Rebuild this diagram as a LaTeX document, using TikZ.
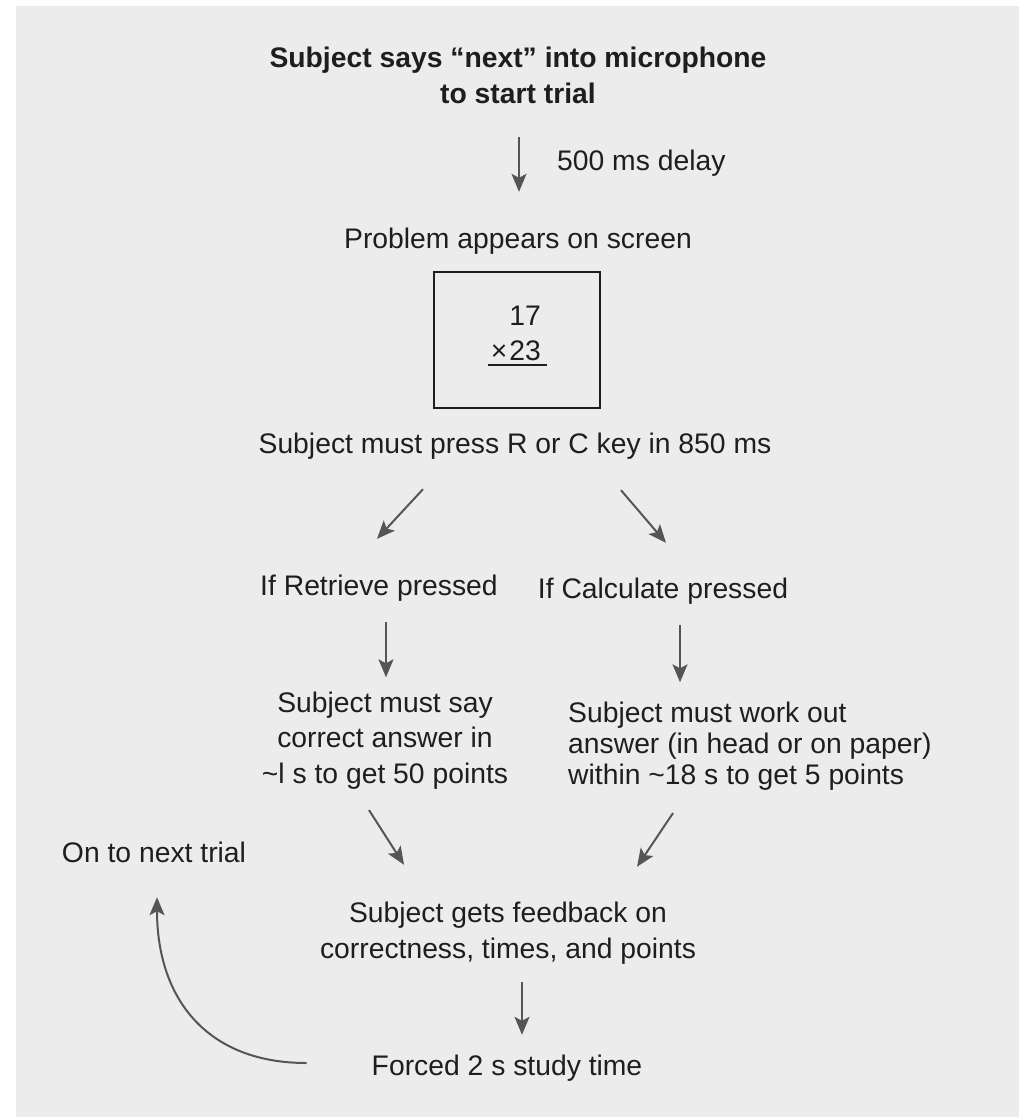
\documentclass[tikz,border=0pt]{standalone}
\usepackage{fontspec}
\setmainfont{Liberation Sans}
\usepackage{tikz}
\usetikzlibrary{arrows.meta}
\definecolor{panelgray}{HTML}{ECECEC}
\definecolor{inkgray}{HTML}{1E1E1E}
\definecolor{arrowgray}{HTML}{555555}

\begin{document}
\begin{tikzpicture}[x=1pt,y=1pt,
  txt/.style={inner sep=0pt, text=inkgray, font=\fontsize{28.3}{36}\selectfont, text height=20pt, text depth=6pt},
  blk/.style={inner sep=0pt, text=inkgray, font=\fontsize{28.3}{35.5}\selectfont},
  arr/.style={draw=arrowgray, line width=2pt, -{Stealth[length=18pt,width=15pt,inset=4pt]}}]
\useasboundingbox (0,0) rectangle (1019,-1117);
\fill[white] (0,0) rectangle (1019,-1117);
\fill[panelgray] (16,-6) rectangle (1019,-1117);
% multi-line nodes sit on the baseline of their last line
\node[blk, font=\fontsize{28.3}{36}\selectfont\bfseries, align=center, anchor=base] (start) at (518,-103) {Subject says “next” into microphone\\to start trial};
\node[txt, anchor=base west] (delay) at (557,-170) {500 ms delay};
\node[txt, anchor=base] (prob) at (518,-248) {Problem appears on screen};
\node[draw=inkgray, line width=1.5pt, minimum width=166pt, minimum height=136pt, inner sep=0pt] (screen) at (517,-340) {};
\node[txt, anchor=base east] (n17) at (541,-325) {17};
\node[txt, anchor=base east] (n23) at (541,-360) {×\kern2pt23};
\draw[inkgray, line width=2pt] ([xshift=-3pt,yshift=-5pt]n23.base west) -- ([xshift=6pt,yshift=-5pt]n23.base east);
\node[txt, anchor=base] (press) at (515,-453) {Subject must press R or C key in 850 ms};
\node[txt, anchor=base] (retr) at (379,-595) {If Retrieve pressed};
\node[txt, anchor=base] (calc) at (663,-598) {If Calculate pressed};
\node[blk, align=center, anchor=base] (sayblk) at (385,-783) {Subject must say\\correct answer in\\\textasciitilde l s to get 50 points};
\node[blk, font=\fontsize{28.3}{31}\selectfont, align=left, anchor=base west] (workblk) at (568,-784) {Subject must work out\\answer (in head or on paper)\\within \textasciitilde 18 s to get 5 points};
\node[txt, anchor=base] (next) at (154,-862) {On to next trial};
\node[blk, align=center, anchor=base] (fb) at (508,-958) {Subject gets feedback on\\correctness, times, and points};
\node[txt, anchor=base] (forced) at (507,-1075) {Forced 2 s study time};
%\draw[arr] (start) -- (prob);
\draw[arr] ([xshift=1pt,yshift=-34pt]start.south) -- ([xshift=1pt,yshift=36pt]prob.north);
\draw[arr] ([xshift=-92pt,yshift=-30pt]press.south) -- ([xshift=-2pt,yshift=36pt]retr.north);
\draw[arr] ([xshift=106pt,yshift=-31pt]press.south) -- ([xshift=3pt,yshift=35pt]calc.north);
\draw[arr] ([xshift=7pt,yshift=-21pt]retr.south) -- ([xshift=1pt,yshift=14pt]sayblk.north);
\draw[arr] ([xshift=17pt,yshift=-21pt]calc.south) -- ([xshift=112pt,yshift=19pt]workblk.north west);
\draw[arr] ([xshift=-16pt,yshift=-21pt]sayblk.south) -- ([xshift=-104pt,yshift=37pt]fb.north);
\draw[arr] ([xshift=105pt,yshift=-23pt]workblk.south west) -- ([xshift=129pt,yshift=35pt]fb.north);
\draw[arr] ([xshift=14pt,yshift=-18pt]fb.south) -- ([xshift=15pt,yshift=20pt]forced.north);
\draw[arr] ([xshift=-65pt,yshift=5pt]forced.west) to[out=180,in=-90,looseness=1.15] ([xshift=3pt,yshift=-29pt]next.south);
\end{tikzpicture}
\end{document}
